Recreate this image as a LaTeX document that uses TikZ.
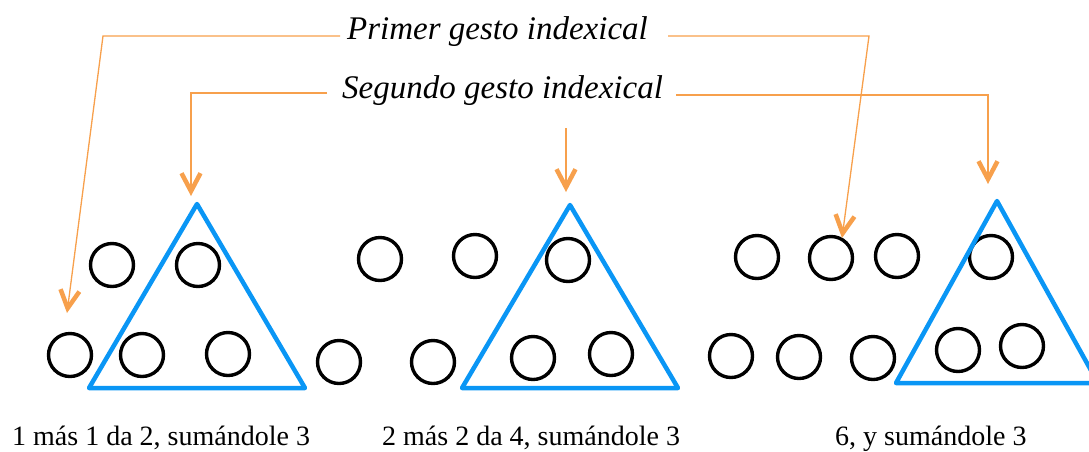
\documentclass[tikz,border=0pt]{standalone}
\usepackage{fontspec}
\setmainfont{Liberation Serif}
\usetikzlibrary{arrows.meta}
\definecolor{gestoorange}{RGB}{247,160,76}
\definecolor{triblue}{RGB}{10,150,245}
\begin{document}
\begin{tikzpicture}[x=1pt,y=-1pt,
	dot/.style={circle, draw, line width=3.4pt, minimum size=43pt, inner sep=0pt},
	tri/.style={draw=triblue, line width=4.5pt, line join=round},
	gesto/.style={draw=gestoorange, line width=1.3pt, -{Straight Barb[length=18pt,width=19pt,line width=4.5pt]}},
	gst/.style={font=\fontsize{33}{40}\selectfont\itshape, anchor=base west, inner sep=0pt},
	lbl/.style={font=\fontsize{28}{34}\selectfont, anchor=base west, inner sep=0pt}]
	\useasboundingbox (0,0) rectangle (1089,451);
	\node (primer)	at (347, 39)	[gst]	{Primer gesto indexical};
	\node (segundo)	at (342, 98)	[gst]	{Segundo gesto indexical};
	\node (suma1)	at ( 12,445)	[lbl]	{1 más 1 da 2, sumándole 3};
	\node (suma2)	at (382,445)	[lbl]	{2 más 2 da 4, sumándole 3};
	\node (suma3)	at (835,445)	[lbl]	{6, y sumándole 3};
	\node (A1) at (112,265)	[dot]	{};
	\node (A2) at (198,265)	[dot]	{};
	\node (A3) at ( 70,355)	[dot]	{};
	\node (A4) at (142,355)	[dot]	{};
	\node (A5) at (228,354)	[dot]	{};
	\node (B1) at (380,259)	[dot]	{};
	\node (B2) at (475,256)	[dot]	{};
	\node (B3) at (568,260)	[dot]	{};
	\node (B4) at (339,362)	[dot]	{};
	\node (B5) at (433,362)	[dot]	{};
	\node (B6) at (533,358)	[dot]	{};
	\node (B7) at (611,354)	[dot]	{};
	\node (C1) at (757,257)	[dot]	{};
	\node (C2) at (831,258)	[dot]	{};
	\node (C3) at (897,256)	[dot]	{};
	\node (C4) at (991,257)	[dot]	{};
	\node (C5) at (731,356)	[dot]	{};
	\node (C6) at (799,357)	[dot]	{};
	\node (C7) at (873,358)	[dot]	{};
	\node (C8) at (958,350)	[dot]	{};
	\node (C9) at (1022,346)	[dot]	{};
	\coordinate (T1) at (197,204);
	\coordinate (T2) at (570,205);
	\coordinate (T3) at (997,201);
	\draw[tri] (T1) -- (305,388) -- (89,388) -- cycle;
	\draw[tri] (T2) -- (678,388) -- (462,388) -- cycle;
	\draw[tri] (T3) -- (1098,383) -- (896,383) -- cycle;
	\coordinate (P1) at (67,313);
	\coordinate (P2) at (842,238);
	\coordinate (S1) at (191,196);
	\coordinate (S2) at (988,184);
	\coordinate (S3) at (566,128);
	\coordinate (S4) at (566,192);
	\draw[gesto] ([shift={(-7,-3)}]primer.base west) -- (103,36) -- (P1);
	\draw[gesto] ([shift={(20,-3)}]primer.base east) -- (869,36) -- (P2);
	\draw[gesto] ([shift={(-15,-5)}]segundo.base west) -- (191,93) -- (S1);
	\draw[gesto] ([shift={(13,-3)}]segundo.base east) -- (988,95) -- (S2);
	\draw[gesto] (S3) -- (S4);
\end{tikzpicture}
\end{document}
